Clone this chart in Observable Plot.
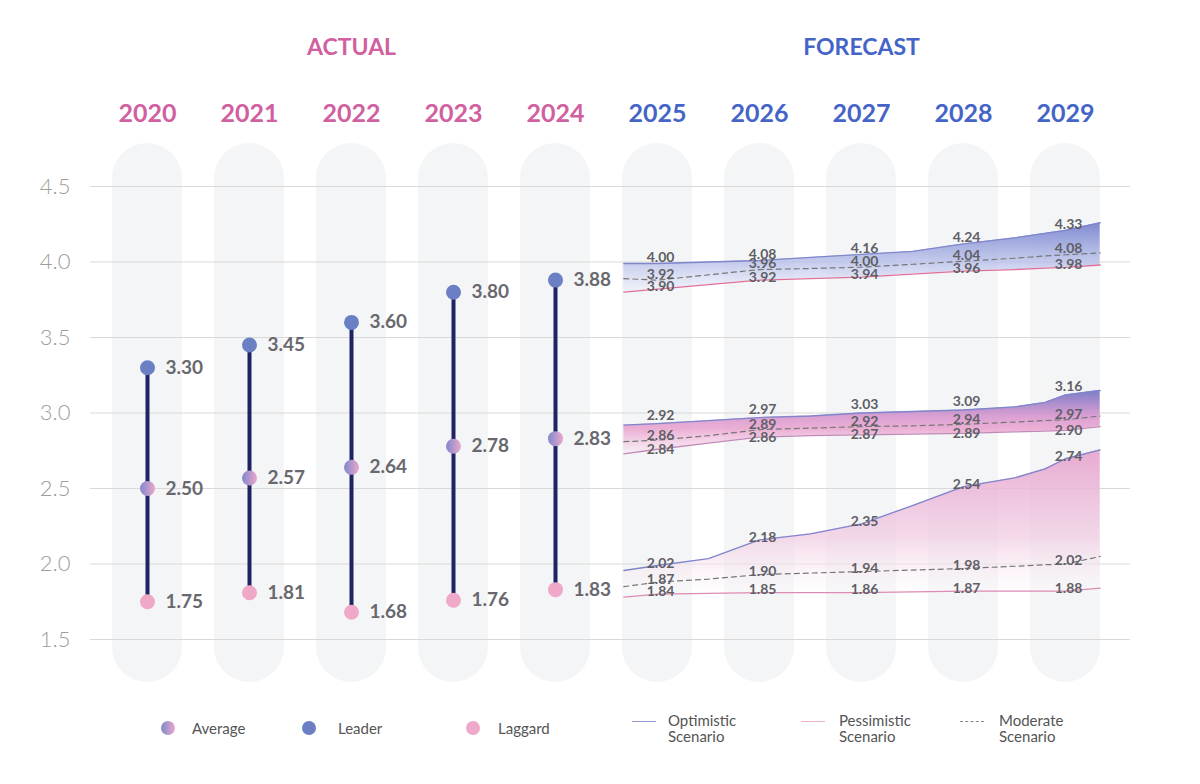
<!DOCTYPE html>
<html><head><meta charset="utf-8">
<script src="https://cdn.jsdelivr.net/npm/d3@7"></script>
<script src="https://cdn.jsdelivr.net/npm/@observablehq/plot@0.6"></script>
<style>
body{margin:0;background:#fff;font-family:Lato,"Open Sans",sans-serif;}
#legend{position:relative;width:1200px;height:84px;}
#legend .dot{position:absolute;top:21px;width:14px;height:14px;border-radius:50%;}
#legend .t{position:absolute;font-size:15px;color:#555;line-height:16px;font-weight:400;}
#legend .ln{position:absolute;top:21px;width:24px;height:0;}
</style></head><body>
<div id="chart"></div>
<div id="legend">
  <span class="dot" style="left:161px;background:linear-gradient(90deg,#7f88cc,#eba8cd)"></span>
  <span class="t" style="left:192px;top:20px">Average</span>
  <span class="dot" style="left:302px;background:#6b7fc4"></span>
  <span class="t" style="left:338px;top:20px">Leader</span>
  <span class="dot" style="left:466px;background:#f0a8c9"></span>
  <span class="t" style="left:498px;top:20px">Laggard</span>
  <span class="ln" style="left:632px;border-top:1.5px solid #9097d2"></span>
  <span class="t" style="left:668px;top:12px">Optimistic<br>Scenario</span>
  <span class="ln" style="left:801px;border-top:1.5px solid #eab2cb"></span>
  <span class="t" style="left:839px;top:12px">Pessimistic<br>Scenario</span>
  <span class="ln" style="left:960px;border-top:1.5px dashed #888"></span>
  <span class="t" style="left:999px;top:12px">Moderate<br>Scenario</span>
</div>
<script>
// ---------- data ----------
const actualYears = [2020, 2021, 2022, 2023, 2024];
const forecastYears = [2025, 2026, 2027, 2028, 2029];
const leaderActual = [3.30, 3.45, 3.60, 3.80, 3.88];
const averageActual = [2.50, 2.57, 2.64, 2.78, 2.83];
const laggardActual = [1.75, 1.81, 1.68, 1.76, 1.83];
const yTicks = [1.5, 2.0, 2.5, 3.0, 3.5, 4.0, 4.5];

// forecast labelled values (2025..2029)
const leaderOptLabels = [4.00, 4.08, 4.16, 4.24, 4.33];
const leaderModLabels = [3.92, 3.96, 4.00, 4.04, 4.08];
const leaderPesLabels = [3.90, 3.92, 3.94, 3.96, 3.98];
const averageOptLabels = [2.92, 2.97, 3.03, 3.09, 3.16];
const averageModLabels = [2.86, 2.89, 2.92, 2.94, 2.97];
const averagePesLabels = [2.84, 2.86, 2.87, 2.89, 2.90];
const laggardOptLabels = [2.02, 2.18, 2.35, 2.54, 2.74];
const laggardModLabels = [1.87, 1.90, 1.94, 1.98, 2.02];
const laggardPesLabels = [1.84, 1.85, 1.86, 1.87, 1.88];

// scenario lines as drawn
const lineX = [2024.67, 2025, 2025.5, 2026, 2026.5, 2027, 2027.5, 2028, 2028.5, 2028.8, 2029, 2029.34];
const leaderOptLine  = [3.99, 3.99, 4.00, 4.01, 4.03, 4.05, 4.07, 4.12, 4.16, 4.19, 4.21, 4.26];
const leaderModLine  = [3.89, 3.88, 3.915, 3.95, 3.957, 3.966, 3.985, 4.005, 4.025, 4.04, 4.048, 4.06];
const leaderPesLine  = [3.80, 3.82, 3.85, 3.88, 3.89, 3.90, 3.92, 3.94, 3.95, 3.96, 3.965, 3.98];
const averageOptLine = [2.92, 2.93, 2.95, 2.97, 2.98, 3.00, 3.01, 3.02, 3.04, 3.07, 3.12, 3.15];
const averageModLine = [2.81, 2.82, 2.85, 2.89, 2.90, 2.91, 2.915, 2.925, 2.94, 2.95, 2.955, 2.98];
const averagePesLine = [2.73, 2.76, 2.80, 2.84, 2.85, 2.855, 2.86, 2.865, 2.875, 2.88, 2.885, 2.91];
const laggardOptLine = [1.957, 1.99, 2.035, 2.16, 2.20, 2.266, 2.387, 2.513, 2.57, 2.63, 2.697, 2.756];
const laggardModLine = [1.85, 1.88, 1.90, 1.93, 1.94, 1.95, 1.96, 1.97, 1.985, 1.995, 2.00, 2.05];
const laggardPesLine = [1.78, 1.80, 1.805, 1.81, 1.81, 1.81, 1.815, 1.82, 1.82, 1.82, 1.82, 1.84];

// ---------- helpers ----------
const allYears = actualYears.concat(forecastYears);
const band = (lo, hi) => lineX.map((x, i) => ({x, lo: lo[i], hi: hi[i]}));
const pts = (arr) => lineX.map((x, i) => ({x, v: arr[i]}));
const lineAt = (arr, year) => arr[lineX.indexOf(year)];
const fmt = d3.format(".2f");

const optStroke = "#7f86cc", modStroke = "#777";

function scenario(fill, pesStroke, opt, mod, pes, optL, modL, pesL, dys) {
  return [
    Plot.areaY(band(pes, opt), {x: "x", y1: "lo", y2: "hi", fill, curve: "linear"}),
    Plot.lineY(pts(pes), {x: "x", y: "v", stroke: pesStroke, strokeWidth: 1.3}),
    Plot.lineY(pts(mod), {x: "x", y: "v", stroke: modStroke, strokeWidth: 1.2, strokeDasharray: "5,4"}),
    Plot.lineY(pts(opt), {x: "x", y: "v", stroke: optStroke, strokeWidth: 1.3}),
    ...[[opt, optL, dys[0]], [mod, modL, dys[1]], [pes, pesL, dys[2]]].map(([ln, lab, dy]) =>
      Plot.text(forecastYears, {
        x: d => d + 0.03, y: d => lineAt(ln, d), text: (d, i) => fmt(lab[i]),
        dy, fontSize: 14, fontWeight: 700, fill: "#5f5f66", textAnchor: "middle"
      }))
  ];
}

const svg = Plot.plot({
  width: 1200,
  height: 700,
  marginTop: 186,
  marginBottom: 61,
  marginLeft: 90,
  marginRight: 70,
  style: {fontFamily: "Lato, 'Open Sans', sans-serif", background: "#fff", overflow: "visible"},
  x: {domain: [2020, 2029], range: [147, 1065], axis: null},
  y: {domain: [1.5, 4.5], range: [639, 186], axis: null},
  marks: [
    // pill-shaped column backgrounds
    Plot.rect(allYears, {x1: d => d - 0.343, x2: d => d + 0.343, y1: () => 1.215, y2: () => 4.785, rx: 35, fill: "#f4f5f6"}),
    Plot.gridY(yTicks, {stroke: "#d9d9d9", strokeOpacity: 1, strokeWidth: 1}),
    Plot.axisY(yTicks, {tickSize: 0, tickPadding: 20, tickFormat: d3.format(".1f"), fontSize: 22, fill: "#9d9d9d", fontWeight: 300}),
    // headers
    Plot.text(["ACTUAL"], {x: () => 2022, frameAnchor: "top", lineAnchor: "middle", dy: -139, text: d => d, fill: "#d0609f", fontSize: 23, fontWeight: 700, letterSpacing: "0.5px"}),
    Plot.text(["FORECAST"], {x: () => 2027, frameAnchor: "top", lineAnchor: "middle", dy: -139, text: d => d, fill: "#4464c8", fontSize: 23, fontWeight: 700, letterSpacing: "0.5px"}),
    Plot.text(actualYears, {x: d => d, frameAnchor: "top", lineAnchor: "middle", dy: -73, text: d => String(d), fill: "#d0609f", fontSize: 25, fontWeight: 700}),
    Plot.text(forecastYears, {x: d => d, frameAnchor: "top", lineAnchor: "middle", dy: -73, text: d => String(d), fill: "#4464c8", fontSize: 25, fontWeight: 700}),
    // forecast scenarios
    ...scenario("url(#gLeader)", "#e0709a", leaderOptLine, leaderModLine, leaderPesLine, leaderOptLabels, leaderModLabels, leaderPesLabels, [-6, -6, -3]),
    ...scenario("url(#gAverage)", "#c08ab8", averageOptLine, averageModLine, averagePesLine, averageOptLabels, averageModLabels, averagePesLabels, [-8, -5, 0]),
    ...scenario("url(#gLaggard)", "#dc8cb4", laggardOptLine, laggardModLine, laggardPesLine, laggardOptLabels, laggardModLabels, laggardPesLabels, [-2, -3, -3]),
    // actual stems
    Plot.ruleX(actualYears, {x: d => d, y1: (d, i) => laggardActual[i], y2: (d, i) => leaderActual[i], stroke: "#1e2463", strokeWidth: 4}),
    Plot.dot(actualYears, {x: d => d, y: (d, i) => leaderActual[i], r: 7.5, fill: "#6b7fc4"}),
    Plot.dot(actualYears, {x: d => d, y: (d, i) => averageActual[i], r: 7.5, fill: "url(#gAvgDot)"}),
    Plot.dot(actualYears, {x: d => d, y: (d, i) => laggardActual[i], r: 7.5, fill: "#f0a8c9"}),
    ...[leaderActual, averageActual, laggardActual].map(arr =>
      Plot.text(actualYears, {x: d => d, y: (d, i) => arr[i], text: (d, i) => fmt(arr[i]), dx: 18, textAnchor: "start", fontSize: 19, fontWeight: 700, fill: "#68686e"}))
  ]
});

// gradient definitions
const defs = d3.select(svg).insert("defs", ":first-child");
function grad(id, stops, horizontal) {
  const g = defs.append("linearGradient").attr("id", id)
    .attr("x1", 0).attr("y1", 0).attr("x2", horizontal ? 1 : 0).attr("y2", horizontal ? 0 : 1);
  stops.forEach(([o, c, a]) => g.append("stop").attr("offset", o).attr("stop-color", c).attr("stop-opacity", a));
}
grad("gLeader", [["0%", "#7884cf", 0.95], ["60%", "#bcc3eb", 0.8], ["100%", "#eef0fa", 0.6]]);
grad("gAverage", [["0%", "#7a7cc8", 1], ["40%", "#d69ad0", 0.95], ["62%", "#eaa3cf", 0.85], ["100%", "#f8e8f2", 0.6]]);
grad("gLaggard", [["0%", "#e6a2cd", 0.9], ["60%", "#f1cde3", 0.75], ["100%", "#ffffff", 0.3]]);
grad("gAvgDot", [["0%", "#7f88cc", 1], ["100%", "#eba8cd", 1]], true);

document.getElementById("chart").appendChild(svg);
</script>
</body></html>
